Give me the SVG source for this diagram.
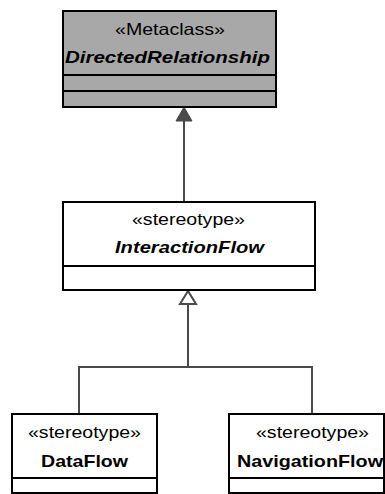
<svg xmlns="http://www.w3.org/2000/svg" width="385" height="494" viewBox="0 0 385 494">
<style>
.box{fill:#ffffff;stroke:#000000;stroke-width:2}
.meta{fill:#a8a8a8;stroke:#000000;stroke-width:2}
.div{stroke:#000000;stroke-width:2}
.conn{stroke:#4a4a4a;stroke-width:2;fill:none}
text{font-family:"Liberation Sans",Arial,sans-serif;font-size:16.5px;fill:#000000}
.b{font-weight:bold}
.bi{font-weight:bold;font-style:italic}
</style>
<rect width="385" height="494" fill="#ffffff"/>
<g id="connectors">
<line class="conn" x1="184" y1="120" x2="184" y2="202"/>
<polygon points="184,107 176,121 192,121" fill="#4a4a4a" stroke="#4a4a4a" stroke-width="1"/>
<polyline class="conn" points="188,304 188,367"/>
<polyline class="conn" points="79,414 79,367 312,367 312,414"/>
<polygon points="188,291 180,304 196,304" fill="#ffffff" stroke="#4a4a4a" stroke-width="2"/>
</g>
<g id="DirectedRelationship">
<rect class="meta" x="63" y="11" width="213" height="96"/>
<line class="div" x1="63" y1="75" x2="276" y2="75"/>
<line class="div" x1="63" y1="91" x2="276" y2="91"/>
<text x="115" y="35" textLength="110" lengthAdjust="spacingAndGlyphs">«Metaclass»</text>
<text class="bi" x="65" y="63" textLength="205" lengthAdjust="spacingAndGlyphs">DirectedRelationship</text>
</g>
<g id="InteractionFlow">
<rect class="box" x="63" y="202" width="252" height="88"/>
<line class="div" x1="63" y1="266" x2="315" y2="266"/>
<text x="132" y="225" textLength="113" lengthAdjust="spacingAndGlyphs">«stereotype»</text>
<text class="bi" x="115" y="253" textLength="149" lengthAdjust="spacingAndGlyphs">InteractionFlow</text>
</g>
<g id="DataFlow">
<rect class="box" x="12" y="414" width="145" height="79"/>
<line class="div" x1="12" y1="478" x2="157" y2="478"/>
<text x="28" y="438" textLength="113" lengthAdjust="spacingAndGlyphs">«stereotype»</text>
<text class="b" x="41" y="467" textLength="87" lengthAdjust="spacingAndGlyphs">DataFlow</text>
</g>
<g id="NavigationFlow">
<rect class="box" x="229" y="414" width="155" height="79"/>
<line class="div" x1="229" y1="478" x2="384" y2="478"/>
<text x="256" y="438" textLength="113" lengthAdjust="spacingAndGlyphs">«stereotype»</text>
<text class="b" x="237" y="467" textLength="146" lengthAdjust="spacingAndGlyphs">NavigationFlow</text>
</g>
</svg>
